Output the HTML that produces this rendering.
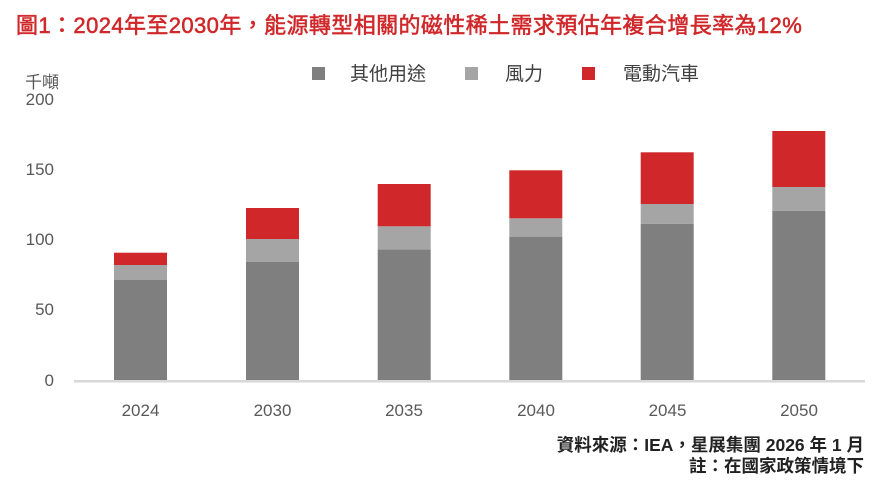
<!DOCTYPE html>
<html>
<head>
<meta charset="utf-8">
<style>
  html,body{margin:0;padding:0;background:#fff;}
  body{width:895px;height:487px;overflow:hidden;}
  svg{display:block;}
  .cjk{font-family:"Liberation Sans","Noto Sans CJK TC",sans-serif;}
</style>
</head>
<body>
<svg width="895" height="487" viewBox="0 0 895 487" xmlns="http://www.w3.org/2000/svg">
  <!-- Title -->
  <text x="16" y="33" class="cjk" font-size="22" font-weight="normal" fill="#d0282a" stroke="#d0282a" stroke-width="0.55" letter-spacing="0.4">圖1：2024年至2030年，能源轉型相關的磁性稀土需求預估年複合增長率為12%</text>

  <!-- Unit -->
  <text x="25" y="88" class="cjk" font-size="17" fill="#595959">千噸</text>

  <!-- Y tick labels -->
  <g class="cjk" font-size="17" fill="#595959" text-anchor="end">
    <text x="54" y="105">200</text>
    <text x="54" y="175">150</text>
    <text x="54" y="245">100</text>
    <text x="54" y="315">50</text>
    <text x="54" y="386">0</text>
  </g>

  <!-- Legend -->
  <rect x="312" y="67" width="13" height="13" fill="#7f7f7f"/>
  <text x="350" y="80" class="cjk" font-size="19" fill="#404040">其他用途</text>
  <rect x="465" y="67" width="13" height="13" fill="#a5a5a5"/>
  <text x="505" y="80" class="cjk" font-size="19" fill="#404040">風力</text>
  <rect x="582" y="67" width="13" height="13" fill="#d0282a"/>
  <text x="623" y="80" class="cjk" font-size="19" fill="#404040">電動汽車</text>

  <!-- Bars -->
  <g>
    <!-- 2024 -->
    <rect x="114" y="280" width="53" height="100" fill="#7f7f7f"/>
    <rect x="114" y="265" width="53" height="15" fill="#a5a5a5"/>
    <rect x="114" y="252.7" width="53" height="12.3" fill="#d0282a"/>
    <!-- 2030 -->
    <rect x="246" y="262" width="53" height="118" fill="#7f7f7f"/>
    <rect x="246" y="239" width="53" height="23" fill="#a5a5a5"/>
    <rect x="246" y="208" width="53" height="31" fill="#d0282a"/>
    <!-- 2035 -->
    <rect x="377.7" y="249.3" width="53" height="130.7" fill="#7f7f7f"/>
    <rect x="377.7" y="226.3" width="53" height="23" fill="#a5a5a5"/>
    <rect x="377.7" y="184" width="53" height="42.3" fill="#d0282a"/>
    <!-- 2040 -->
    <rect x="509.3" y="237" width="53" height="143" fill="#7f7f7f"/>
    <rect x="509.3" y="218.3" width="53" height="18.7" fill="#a5a5a5"/>
    <rect x="509.3" y="170.3" width="53" height="48" fill="#d0282a"/>
    <!-- 2045 -->
    <rect x="640.7" y="223.7" width="53" height="156.3" fill="#7f7f7f"/>
    <rect x="640.7" y="204" width="53" height="19.7" fill="#a5a5a5"/>
    <rect x="640.7" y="152.3" width="53" height="51.7" fill="#d0282a"/>
    <!-- 2050 -->
    <rect x="772.3" y="210.7" width="53" height="169.3" fill="#7f7f7f"/>
    <rect x="772.3" y="187" width="53" height="23.7" fill="#a5a5a5"/>
    <rect x="772.3" y="131" width="53" height="56" fill="#d0282a"/>
  </g>

  <!-- Axis line -->
  <rect x="74" y="380" width="791" height="2.6" fill="#d9d9d9"/>

  <!-- X labels -->
  <g class="cjk" font-size="17" fill="#595959" text-anchor="middle">
    <text x="140.5" y="416">2024</text>
    <text x="272.5" y="416">2030</text>
    <text x="404" y="416">2035</text>
    <text x="536" y="416">2040</text>
    <text x="667.5" y="416">2045</text>
    <text x="799" y="416">2050</text>
  </g>

  <!-- Footer -->
  <g class="cjk" font-size="17.5" font-weight="bold" fill="#222" text-anchor="end">
    <text x="864" y="451">資料來源：IEA，星展集團 2026 年 1 月</text>
    <text x="864" y="472">註：在國家政策情境下</text>
  </g>
</svg>
</body>
</html>
